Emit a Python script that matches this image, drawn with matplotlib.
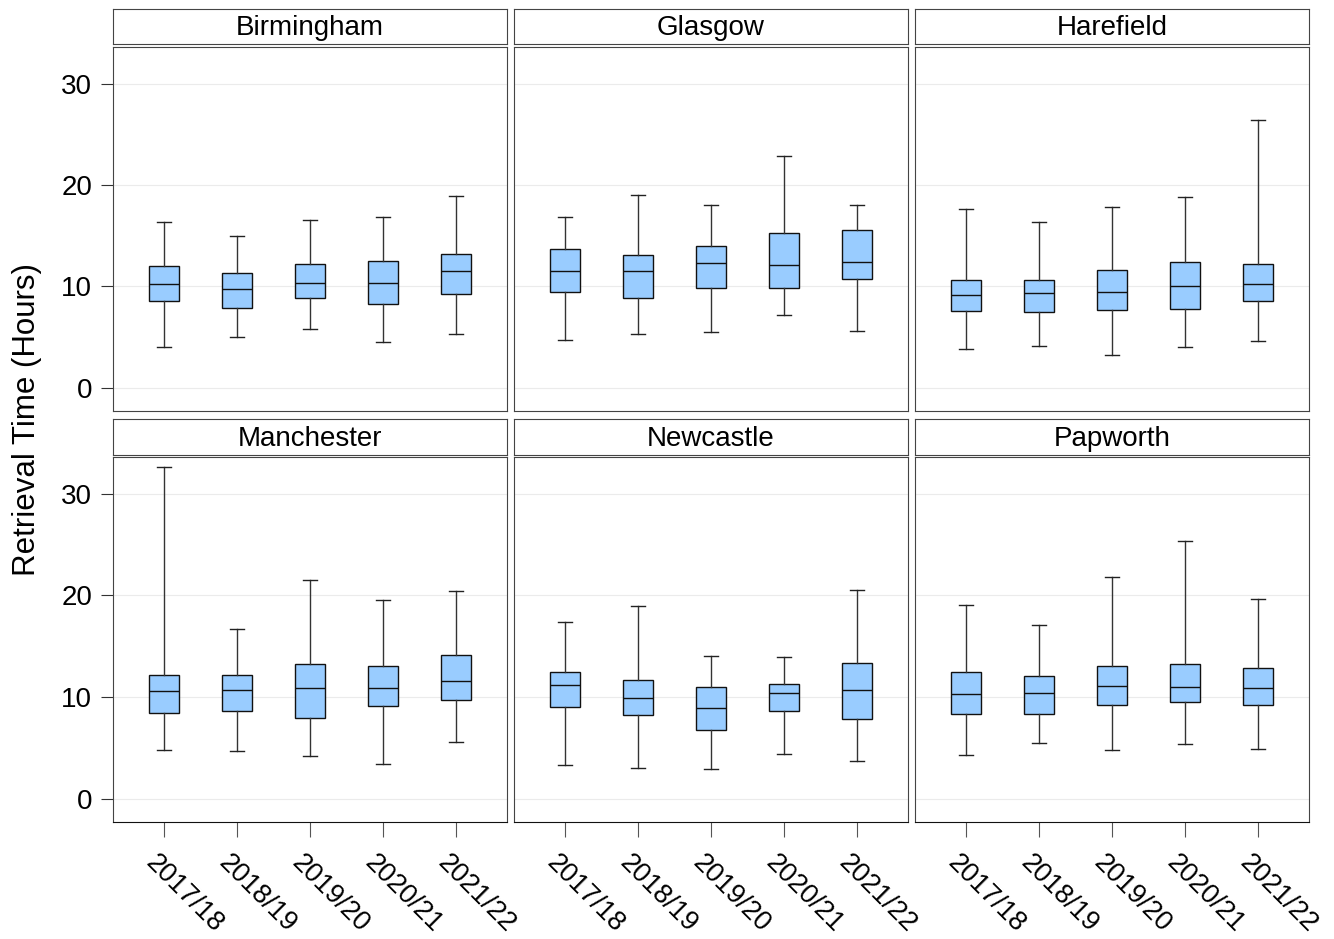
import matplotlib
matplotlib.use("Agg")
import matplotlib.pyplot as plt
from matplotlib.transforms import ScaledTranslation

plt.rcParams['font.family'] = ['Liberation Sans', 'DejaVu Sans']

sites = ['Birmingham', 'Glasgow', 'Harefield', 'Manchester', 'Newcastle', 'Papworth']
years = ['2017/18', '2018/19', '2019/20', '2020/21', '2021/22']

# box statistics per site (rows) and year (columns), hours
whislo = [
    [4.0, 5.0, 5.75, 4.5, 5.3],
    [4.7, 5.25, 5.5, 7.2, 5.6],
    [3.8, 4.1, 3.25, 4.05, 4.65],
    [4.75, 4.7, 4.15, 3.4, 5.6],
    [3.35, 3.0, 2.9, 4.35, 3.7],
    [4.25, 5.5, 4.8, 5.35, 4.9],
]
q1 = [
    [8.55, 7.9, 8.85, 8.3, 9.25],
    [9.45, 8.85, 9.85, 9.8, 10.7],
    [7.55, 7.5, 7.65, 7.75, 8.55],
    [8.45, 8.65, 7.95, 9.15, 9.7],
    [9.0, 8.2, 6.7, 8.6, 7.8],
    [8.35, 8.35, 9.25, 9.55, 9.25],
]
med = [
    [10.2, 9.7, 10.3, 10.3, 11.5],
    [11.5, 11.5, 12.3, 12.1, 12.35],
    [9.1, 9.35, 9.45, 10.0, 10.2],
    [10.55, 10.65, 10.85, 10.85, 11.55],
    [11.2, 9.85, 8.9, 10.4, 10.7],
    [10.25, 10.4, 11.1, 10.95, 10.9],
]
q3 = [
    [12.0, 11.3, 12.15, 12.45, 13.2],
    [13.7, 13.05, 13.95, 15.25, 15.6],
    [10.65, 10.6, 11.65, 12.35, 12.15],
    [12.15, 12.2, 13.25, 13.0, 14.15],
    [12.5, 11.7, 11.0, 11.25, 13.35],
    [12.5, 12.1, 13.05, 13.25, 12.8],
]
whishi = [
    [16.35, 15.0, 16.5, 16.85, 18.95],
    [16.8, 19.05, 18.05, 22.85, 18.05],
    [17.65, 16.35, 17.85, 18.8, 26.4],
    [32.6, 16.7, 21.55, 19.55, 20.45],
    [17.35, 18.95, 14.0, 13.9, 20.55],
    [19.0, 17.1, 21.75, 25.3, 19.6],
]

W, H = 1334, 939
fig = plt.figure(figsize=(W / 100, H / 100), dpi=100)


def rect(x0, y0, x1, y1):
    return [x0 / W, 1 - y1 / H, (x1 - x0) / W, (y1 - y0) / H]


cols = [(113, 507), (514, 908), (915, 1309)]
rows = [((9, 44), (47, 411)), ((419, 455), (457, 822))]
edge = '#444444'
shift = ScaledTranslation(-0.14, 0, fig.dpi_scale_trans)

for i, site in enumerate(sites):
    r, c = divmod(i, 3)
    (sy0, sy1), (py0, py1) = rows[r]
    x0, x1 = cols[c]

    strip = fig.add_axes(rect(x0, sy0, x1, sy1))
    strip.set_xticks([])
    strip.set_yticks([])
    for s in strip.spines.values():
        s.set_color(edge)
    strip.text(0.5, 0.45, site, ha='center', va='center', fontsize=20,
               transform=strip.transAxes)

    ax = fig.add_axes(rect(x0, py0, x1, py1))
    stats = []
    for j, yr in enumerate(years):
        stats.append(dict(label=yr, whislo=whislo[i][j], q1=q1[i][j], med=med[i][j],
                          q3=q3[i][j], whishi=whishi[i][j], fliers=[]))
    ax.bxp(stats, positions=range(1, 6), widths=0.4, patch_artist=True,
           showfliers=False,
           boxprops=dict(facecolor='#99ccff', edgecolor='#111111', linewidth=1.0),
           medianprops=dict(color='#111111', linewidth=1.0),
           whiskerprops=dict(color='#333333', linewidth=1.0),
           capprops=dict(color='#222222', linewidth=1.0))
    ax.set_xlim(0.3, 5.7)
    ax.set_ylim(-2.3, 33.6)
    ax.set_yticks([0, 10, 20, 30])
    ax.yaxis.grid(True, color='#ebebeb', linewidth=0.8)
    ax.set_axisbelow(True)
    for s in ax.spines.values():
        s.set_color(edge)
    if c == 0:
        ax.tick_params(axis='y', length=9, labelsize=20, color='#333333', pad=6)
    else:
        ax.tick_params(axis='y', length=0, labelleft=False)
    if r == 1:
        ax.spines['bottom'].set_color('#111111')
        ax.tick_params(axis='x', length=11, color='#555555', pad=16)
        ax.set_xticks(range(1, 6))
        ax.set_xticklabels(years, rotation=-45, ha='left', va='center',
                           rotation_mode='anchor', fontsize=19.5)
        for lab in ax.get_xticklabels():
            lab.set_transform(lab.get_transform() + shift)
    else:
        ax.set_xticks([])

fig.text(27 / W, 1 - 419 / H, 'Retrieval Time (Hours)', rotation=90,
         ha='center', va='center', fontsize=22.5)

fig.savefig('out.png', dpi=100)
